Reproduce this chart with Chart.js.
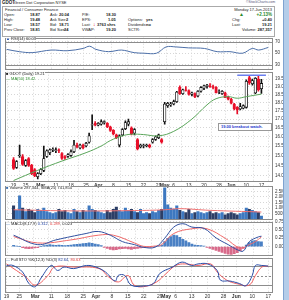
<!DOCTYPE html>
<html>
<head>
<meta charset="utf-8">
<script src="https://cdn.jsdelivr.net/npm/chart.js@4.4.0/dist/chart.umd.min.js"></script>
<style>
  body { margin: 0; width: 289px; height: 300px; overflow: hidden; background: #fff; position: relative;
         font-family: "Liberation Sans", Arial, sans-serif; color: #222; }
  canvas { position: absolute; left: 0; }
  .t { position: absolute; white-space: nowrap; line-height: 1; }
  .b { font-weight: bold; }
  .r { text-align: right; }
  #side { position: absolute; left: 283px; top: 0; width: 6px; height: 300px; background: #b4cde9; border-left: 1px solid #7fa3d0; }
  #leftline { position: absolute; left: 0; top: 0; width: 1px; height: 300px; background: #7fa3d0; }
  #info { position: absolute; left: 2px; top: 6px; width: 271px; height: 29px; border: 1px solid #aaa; }
  .lbl { position: absolute; white-space: nowrap; font-size: 4px; line-height: 1; background: rgba(255,255,255,0.8); }
  #note { position: absolute; left: 218px; top: 123px; width: 50px; height: 6px; border: 1px solid #999; background: #fff;
          font-size: 4px; font-weight: bold; color: #2233cc; line-height: 6px; padding-left: 2px; }
</style>
</head>
<body>
<div id="leftline"></div>
<div id="side"></div>

<div class="t b" style="left:2px;top:1px;font-size:4.5px">GDOT</div>
<div class="t" style="left:14px;top:1px;font-size:4px">Green Dot Corporation NYSE</div>
<div class="t" style="left:246px;top:1px;font-size:3.5px;color:#557">&copy;StockCharts.com</div>
<div id="info"></div>
<div class="t" style="left:5px;top:8px;font-size:4px">Financial / Consumer Finance</div>

<div class="t" style="left:4px;top:13px;font-size:4px">Open:</div>
<div class="t" style="left:4px;top:18px;font-size:4px">High:</div>
<div class="t" style="left:4px;top:23px;font-size:4px">Low:</div>
<div class="t" style="left:4px;top:28px;font-size:4px">Prev Close:</div>
<div class="t b" style="left:30px;top:13px;font-size:4px">18.87</div>
<div class="t b" style="left:30px;top:18px;font-size:4px">19.48</div>
<div class="t b" style="left:30px;top:23px;font-size:4px">18.57</div>
<div class="t b" style="left:30px;top:28px;font-size:4px">18.81</div>

<div class="t" style="left:50px;top:13px;font-size:4px">Ask:</div>
<div class="t" style="left:50px;top:18px;font-size:4px">Ask Size:</div>
<div class="t" style="left:50px;top:23px;font-size:4px">Bid:</div>
<div class="t" style="left:50px;top:28px;font-size:4px">Bid Size:</div>
<div class="t b" style="left:59px;top:13px;font-size:4px">20.04</div>
<div class="t b" style="left:66px;top:18px;font-size:4px">2</div>
<div class="t b" style="left:59px;top:23px;font-size:4px">18.71</div>
<div class="t b" style="left:64px;top:28px;font-size:4px">24</div>

<div class="t" style="left:82px;top:13px;font-size:4px">P/E:</div>
<div class="t" style="left:82px;top:18px;font-size:4px">EPS:</div>
<div class="t" style="left:82px;top:23px;font-size:4px">Last:</div>
<div class="t" style="left:82px;top:28px;font-size:4px">VWAP:</div>
<div class="t b" style="left:106px;top:13px;font-size:4px">18.30</div>
<div class="t b" style="left:108px;top:18px;font-size:4px">1.05</div>
<div class="t" style="left:93px;top:22px;font-size:5px;color:#d00">&#8595;</div>
<div class="t b" style="left:97px;top:23px;font-size:4px">3763 shrs</div>
<div class="t b" style="left:106px;top:28px;font-size:4px">19.20</div>

<div class="t" style="left:128px;top:18px;font-size:4px">Options:</div>
<div class="t" style="left:128px;top:23px;font-size:4px">Dividends:</div>
<div class="t" style="left:128px;top:28px;font-size:4px">SCTR:</div>
<div class="t b" style="left:146px;top:18px;font-size:4px">yes</div>
<div class="t b" style="left:146px;top:23px;font-size:4px">no</div>

<div class="t r" style="left:222px;width:50px;top:8px;font-size:4px">Monday 17-Jun-2013</div>
<div class="t" style="left:239px;top:12px;font-size:5px;color:#2a8a2a">&#9650;</div>
<div class="t b r" style="left:240px;width:32px;top:13px;font-size:4.5px;color:#2a8a2a">+2.13%</div>
<div class="t" style="left:232px;top:18px;font-size:4px">Chg:</div>
<div class="t b r" style="left:250px;width:22px;top:18px;font-size:4px">+0.40</div>
<div class="t" style="left:232px;top:23px;font-size:4px">Last:</div>
<div class="t b r" style="left:250px;width:22px;top:23px;font-size:4px">19.21</div>
<div class="t r" style="left:222px;width:50px;top:28px;font-size:4px">Volume: <b>287,357</b></div>

<canvas id="rsi" width="283" height="41" style="top:33px"></canvas>
<canvas id="price" width="283" height="123" style="top:67px"></canvas>
<canvas id="vol" width="283" height="43" style="top:181px"></canvas>
<canvas id="macd" width="283" height="43" style="top:217px"></canvas>
<canvas id="sto" width="283" height="47" style="top:253px"></canvas>

<div class="lbl" style="left:6px;top:37px"><span style="color:#2050b0">&#9650;</span> RSI(14) 60.03</div>
<div class="lbl" style="left:6px;top:72px"><span>&#9632;</span> GDOT (Daily) 19.21</div>
<div class="lbl" style="left:6px;top:77px;color:#2a8a2a">&mdash; MA(50) 18.42</div>
<div class="lbl" style="left:6px;top:186px"><span style="color:#3a6fb0">&#9632;</span> Volume 287,344, SMA(25) 741,854</div>
<div class="lbl" style="left:6px;top:222px"><span style="color:#3a6fb0">&mdash;</span> MACD(8,17,9) <span style="color:#2040a0">0.312</span>, <span style="color:#e04040">0.289</span>, 0.023</div>
<div class="lbl" style="left:6px;top:258px"><span style="color:#3a6fb0">&mdash;</span> Full STO %K(12,3) %D(3) <span style="color:#2040a0">82.64</span>, <span style="color:#e04040">80.63</span></div>
<div id="note">19.00 breakout watch.</div>

<script>
// date axis: trading day index (0 = Feb 19, 2013 ... 82 = Jun 17, 2013)
const tickIdx = [0, 4, 9, 14, 19, 24, 28, 33, 38, 43, 48, 50, 53, 58, 63, 68, 72, 77, 82];
const tickText = ['19', '25', 'Mar', '11', '18', '25', 'Apr', '8', '15', '22', '29', 'May', '6', '13', '20', '28', 'Jun', '10', '17'];

// daily prices
const opens  = [14.80,14.40,15.00,14.95,14.50,14.85,14.50,14.30,13.95,14.10,14.25,14.95,15.15,15.30,15.25,15.30,15.10,14.95,14.95,15.00,
                15.20,15.55,15.40,15.55,15.50,15.70,16.65,16.75,16.65,16.70,16.80,16.75,16.55,16.35,16.10,15.55,16.10,16.45,16.70,16.50,
                16.20,15.85,15.45,15.50,15.50,15.55,15.70,15.85,15.95,15.85,16.85,17.80,17.85,17.90,18.05,18.95,18.55,18.80,18.75,18.50,
                18.55,18.40,18.70,18.90,19.00,19.05,19.00,18.95,18.70,18.55,18.60,18.35,18.20,17.90,17.70,17.60,17.65,17.70,19.60,19.20,
                18.60,19.50,18.87];
const highs  = [14.90,14.75,15.55,15.05,14.80,14.90,14.55,14.35,14.15,14.35,15.50,15.30,15.35,15.40,15.40,15.35,15.15,15.00,15.10,15.30,
                15.80,15.65,15.60,15.60,15.70,16.20,17.25,16.85,16.80,16.95,16.90,16.80,16.60,16.40,16.15,16.10,16.45,16.90,17.00,16.55,
                16.45,15.90,15.60,15.60,15.60,15.60,15.90,16.05,16.15,15.90,18.00,18.00,18.00,18.15,18.70,19.05,18.85,19.00,18.80,18.65,
                18.60,18.75,19.00,19.10,19.15,19.20,19.10,19.00,18.80,18.75,18.65,18.40,18.25,17.95,17.75,17.95,17.85,19.45,19.70,19.50,
                19.60,19.70,19.48];
const lows   = [14.30,14.35,14.90,14.50,14.45,14.45,14.05,13.95,13.85,14.05,14.20,14.90,15.05,15.20,15.15,15.15,14.80,14.80,14.90,14.95,
                15.15,15.40,15.35,15.35,15.45,15.65,16.40,16.60,16.60,16.65,16.70,16.50,16.30,16.10,15.90,15.45,16.05,16.40,16.60,16.10,
                16.10,15.30,15.40,15.40,15.45,15.40,15.65,15.80,15.90,15.65,16.70,17.70,17.75,17.85,18.00,18.50,18.50,18.70,18.45,18.40,
                18.30,18.35,18.65,18.80,18.90,18.95,18.85,18.60,18.55,18.50,18.30,18.15,17.90,17.55,17.30,17.55,17.60,17.65,19.15,19.10,
                18.55,18.70,18.57];
const closes = [14.35,14.70,15.03,14.55,14.75,14.50,14.10,14.00,14.10,14.30,14.85,15.25,15.30,15.33,15.30,15.27,14.85,14.88,15.05,15.20,
                15.55,15.45,15.55,15.40,15.65,16.05,16.68,16.65,16.75,16.85,16.85,16.55,16.35,16.15,15.95,16.05,16.40,16.80,16.85,16.15,
                16.40,15.35,15.55,15.52,15.55,15.45,15.85,16.00,16.10,15.70,17.90,17.95,17.90,18.05,18.65,18.55,18.80,18.75,18.50,18.60,
                18.35,18.70,18.95,19.05,19.10,19.00,18.95,18.60,18.72,18.70,18.30,18.20,17.95,17.60,17.55,17.75,17.80,19.35,19.25,19.40,
                19.55,18.81,19.21];
const priceTicks = [14.0, 14.5, 15.0, 15.5, 16.0, 16.5, 17.0, 17.5, 18.0, 18.5, 19.0, 19.5];

// moving average read at a few days
const maIdx = [0, 8, 16, 24, 29, 32, 36, 39, 43, 48, 53, 59, 64, 67, 71, 74, 77, 82];
const maVal = [13.77, 14.26, 14.72, 15.15, 15.50, 15.79, 16.05, 16.14, 16.12, 16.05, 16.30, 17.00, 17.85, 18.23, 18.36, 18.26, 18.36, 18.52];
const resistLevel = 19.75, resistFrom = 74;

// volume (millions)
const volumes = [1.2,0.8,2.1,1.0,0.7,0.9,0.8,0.6,0.9,
                 0.8,1.0,0.7,0.6,0.5,0.6,0.9,0.7,0.8,0.6,0.5,0.9,0.7,0.6,0.8,0.7,1.2,0.9,0.8,
                 0.7,0.6,0.5,0.8,0.6,0.9,1.1,0.8,0.7,1.0,0.8,0.9,0.7,0.6,0.9,0.5,0.6,0.5,0.7,0.6,0.8,0.9,
                 2.8,1.3,1.0,0.9,1.2,0.8,0.7,0.6,0.9,0.5,0.6,0.7,0.6,0.5,0.6,0.7,0.5,0.6,0.5,0.6,0.4,0.5,
                 0.6,0.5,0.4,0.5,0.6,1.0,0.9,0.8,0.7,0.6,0.29];
const volSmaIdx = [0, 20, 40, 50, 55, 65, 82];
const volSmaVal = [0.85, 0.75, 0.78, 0.85, 0.95, 0.80, 0.65];
const volTicks = [0.5, 1.0, 1.5, 2.0, 2.5];

// RSI
const rsiIdx = [0, 4, 8, 14, 19, 24, 26, 28, 32, 36, 40, 43, 47, 50, 53, 57, 62, 66, 70, 74, 77, 79, 82];
const rsiVal = [56.7, 52.7, 51, 55.5, 54.3, 58.3, 62.2, 56.7, 52.7, 55.5, 51, 50, 50, 61, 61, 59.3, 58.3, 52.7, 52.7, 50, 58.3, 55.5, 60];
const rsiTicks = [30, 40, 50, 60, 70];

// MACD
const macdIdx = [0, 8, 14, 24, 28, 32, 36, 40, 43, 47, 50, 53, 56, 59, 63, 67, 71, 74, 76, 78, 81, 82];
const macdVal = [0.34, 0.06, 0.20, 0.39, 0.45, 0.34, 0.15, 0.06, -0.02, -0.01, 0.25, 0.58, 0.68, 0.58, 0.54, 0.26, 0.06, -0.09, -0.13, 0.15, 0.29, 0.31];
const sigIdx = [0, 8, 19, 28, 33, 40, 43, 47, 49, 53, 59, 64, 70, 75, 78, 80, 82];
const sigVal = [0.30, 0.11, 0.20, 0.34, 0.34, 0.11, 0.01, 0.02, 0.06, 0.39, 0.53, 0.53, 0.25, -0.04, 0.06, 0.15, 0.29];
const histVals = [0.04,0.02,0.0,-0.03,-0.05,-0.06,-0.05,-0.04,-0.03,0.0,0.03,0.05,0.06,0.05,0.04,0.05,0.04,0.03,0.04,0.05,
                  0.06,0.07,0.08,0.09,0.10,0.11,0.10,0.08,0.06,0.03,-0.02,-0.05,-0.08,-0.10,-0.09,-0.07,-0.06,-0.05,-0.07,-0.08,
                  -0.06,-0.05,-0.04,-0.03,-0.02,-0.02,-0.01,0.0,0.02,0.05,0.15,0.25,0.30,0.34,0.33,0.28,0.22,0.17,0.12,0.08,
                  0.05,0.04,0.03,0.02,-0.02,-0.05,-0.08,-0.11,-0.14,-0.17,-0.20,-0.22,-0.23,-0.21,-0.18,-0.12,-0.05,0.05,0.12,0.17,
                  0.18,0.15,0.14];
const macdTicks = [0, 0.25, 0.5, 0.75];

// Full stochastics
const kIdx = [0, 2, 5, 7, 9, 11, 14, 16, 18, 21, 25, 28, 31, 34, 35, 37, 39, 43, 46, 48, 52, 55, 58, 60, 63, 66, 67, 70, 73, 75, 77, 78, 80, 82];
const kVal = [83, 83, 62, 25, 15, 46, 83, 67, 78, 73, 83, 78, 62, 33, 51, 51, 20, 17, 25, 57, 78, 94, 83, 88, 88, 67, 36, 33, 25, 18, 51, 83, 83, 81];
const dIdx = [0, 6, 9, 13, 15, 21, 29, 32, 35, 38, 40, 43, 47, 50, 53, 56, 60, 64, 66, 69, 72, 76, 78, 80, 82];
const dVal = [88, 46, 20, 51, 78, 78, 73, 46, 30, 51, 20, 15, 30, 57, 83, 88, 83, 88, 62, 36, 25, 20, 51, 78, 81];
const stoTicks = [20, 50, 80];

const days = closes.map((c, i) => i);
const RED = '#e8102a', GRID = '#d6d6d6';

const frame = {
  id: 'frame',
  afterDraw(c) {
    const a = c.chartArea, g = c.ctx;
    g.save();
    g.strokeStyle = '#8c8c8c';
    g.lineWidth = 1;
    g.strokeRect(Math.round(a.left) + 0.5, Math.round(a.top) + 0.5, Math.round(a.right - a.left) - 1, Math.round(a.bottom - a.top) - 1);
    g.restore();
  }
};

// horizontal reference lines (solid + dashed middle) for oscillator panels
function levels(solid, dashed) {
  return {
    id: 'levels',
    beforeDatasetsDraw(c) {
      const a = c.chartArea, g = c.ctx, y = c.scales.y;
      g.save();
      g.lineWidth = 1;
      g.strokeStyle = '#8c8c8c';
      solid.forEach(v => { const p = Math.round(y.getPixelForValue(v)) + 0.5; g.beginPath(); g.moveTo(a.left, p); g.lineTo(a.right, p); g.stroke(); });
      g.setLineDash([2, 2]);
      dashed.forEach(v => { const p = Math.round(y.getPixelForValue(v)) + 0.5; g.beginPath(); g.moveTo(a.left, p); g.lineTo(a.right, p); g.stroke(); });
      g.restore();
    }
  };
}

function xAxis(showDates) {
  return {
    type: 'linear', min: -0.5, max: 83.5,
    afterBuildTicks: s => { s.ticks = tickIdx.map(v => ({ value: v })); },
    afterFit: s => { s.height = showDates ? 7 : 0; },
    ticks: {
      display: showDates, autoSkip: false, maxRotation: 0, padding: 1, color: '#333',
      font: ctx => ({ size: 5, family: 'Liberation Sans', weight: /[A-Z]/.test(tickText[ctx.index] || '') ? 'bold' : 'normal' }),
      callback: (v, i) => tickText[i]
    },
    grid: { color: GRID, drawTicks: false },
    border: { display: false, dash: [1, 2] }
  };
}

function yAxis(extra) {
  return Object.assign({
    position: 'right',
    afterFit: s => { s.width = 10; },
    grid: { color: GRID, drawTicks: false },
    border: { display: false, dash: [1, 2] }
  }, extra);
}

function tickFont() { return { size: 4.5, family: 'Liberation Sans' }; }

function baseOptions(y, showDates, padTop, padBottom) {
  return {
    responsive: false, animation: false, events: [],
    layout: { padding: { left: 5, right: 0, top: padTop, bottom: padBottom } },
    plugins: { legend: { display: false }, tooltip: { enabled: false } },
    scales: { x: xAxis(showDates), y: y }
  };
}

const xy = (idx, val) => idx.map((x, k) => ({ x: x, y: val[k] }));

// ---- RSI
new Chart(document.getElementById('rsi'), {
  type: 'line',
  data: { datasets: [{ data: xy(rsiIdx, rsiVal), borderColor: '#4c6fa8', borderWidth: 1, pointRadius: 0, tension: 0.35 }] },
  options: baseOptions(yAxis({
    min: 22, max: 77,
    afterBuildTicks: s => { s.ticks = rsiTicks.map(v => ({ value: v })); },
    ticks: { font: tickFont(), color: '#333', padding: 2 }
  }), false, 4, 4),
  plugins: [frame, levels([70, 30], [])]
});

// ---- Price
new Chart(document.getElementById('price'), {
  type: 'bar',
  data: {
    datasets: [
      { type: 'line', data: xy(maIdx, maVal), borderColor: '#5aa55a', borderWidth: 1, pointRadius: 0, tension: 0.4, order: -1 },
      { type: 'line', data: [{ x: resistFrom, y: resistLevel }, { x: 83.5, y: resistLevel }], borderColor: '#6a7ff0', borderWidth: 1.5, pointRadius: 0, order: -2 },
      { data: days.map(i => ({ x: i, y: [lows[i], highs[i]] })), grouped: false, barThickness: 1, borderWidth: 0,
        backgroundColor: days.map(i => closes[i] < opens[i] ? RED : '#111'), order: 2 },
      { data: days.map(i => ({ x: i, y: [opens[i], closes[i]] })), grouped: false, barThickness: 2.6, borderWidth: 0.8, borderSkipped: false,
        backgroundColor: days.map(i => closes[i] < opens[i] ? RED : '#fff'),
        borderColor: days.map(i => closes[i] < opens[i] ? RED : '#111'), order: 1 }
    ]
  },
  options: baseOptions(yAxis({
    type: 'logarithmic', min: 13.71, max: 20.0,
    afterBuildTicks: s => { s.ticks = priceTicks.map(v => ({ value: v })); },
    ticks: { font: tickFont(), color: '#333', padding: 2, callback: v => Number(v).toFixed(1) }
  }), true, 4, 1),
  plugins: [frame]
});

// ---- Volume
new Chart(document.getElementById('vol'), {
  type: 'bar',
  data: {
    datasets: [
      { type: 'line', data: xy(volSmaIdx, volSmaVal), borderColor: '#f07070', borderWidth: 1, pointRadius: 0, tension: 0.4, order: -1 },
      { data: days.map(i => ({ x: i, y: volumes[i] })), barThickness: 2.4, borderWidth: 0,
        backgroundColor: days.map(i => closes[i] < opens[i] ? '#2c3e66' : '#3d78c0') }
    ]
  },
  options: baseOptions(yAxis({
    min: 0, max: 3.0,
    afterBuildTicks: s => { s.ticks = volTicks.map(v => ({ value: v })); },
    ticks: { font: tickFont(), color: '#333', padding: 2, callback: v => v < 1 ? (v * 1000) + 'K' : v.toFixed(1) + 'M' }
  }), false, 4, 4),
  plugins: [frame]
});

// ---- MACD
new Chart(document.getElementById('macd'), {
  type: 'bar',
  data: {
    datasets: [
      { type: 'line', data: xy(macdIdx, macdVal), borderColor: '#3050a0', borderWidth: 1, pointRadius: 0, tension: 0.4, order: -2 },
      { type: 'line', data: xy(sigIdx, sigVal), borderColor: '#f06a6a', borderWidth: 1, pointRadius: 0, tension: 0.4, order: -1 },
      { data: days.map(i => ({ x: i, y: histVals[i] })), barThickness: 2.2, borderWidth: 0,
        backgroundColor: days.map(i => histVals[i] < 0 ? '#d86a8a' : '#4a80c4') }
    ]
  },
  options: baseOptions(yAxis({
    min: -0.256, max: 0.74,
    afterBuildTicks: s => { s.ticks = macdTicks.map(v => ({ value: v })); },
    ticks: { font: tickFont(), color: '#333', padding: 2, callback: v => v.toFixed(2) }
  }), false, 4, 4),
  plugins: [frame]
});

// ---- Full stochastics
new Chart(document.getElementById('sto'), {
  type: 'line',
  data: {
    datasets: [
      { data: xy(kIdx, kVal), borderColor: '#2a4ea8', borderWidth: 1, pointRadius: 0, tension: 0.4 },
      { data: xy(dIdx, dVal), borderColor: '#f06060', borderWidth: 1, pointRadius: 0, tension: 0.4 }
    ]
  },
  options: baseOptions(yAxis({
    min: -5.4, max: 108,
    afterBuildTicks: s => { s.ticks = stoTicks.map(v => ({ value: v })); },
    grid: { display: false },
    ticks: { font: tickFont(), color: '#333', padding: 2 }
  }), true, 4, 0),
  plugins: [frame, levels([20, 80], [50])]
});
</script>
</body>
</html>
